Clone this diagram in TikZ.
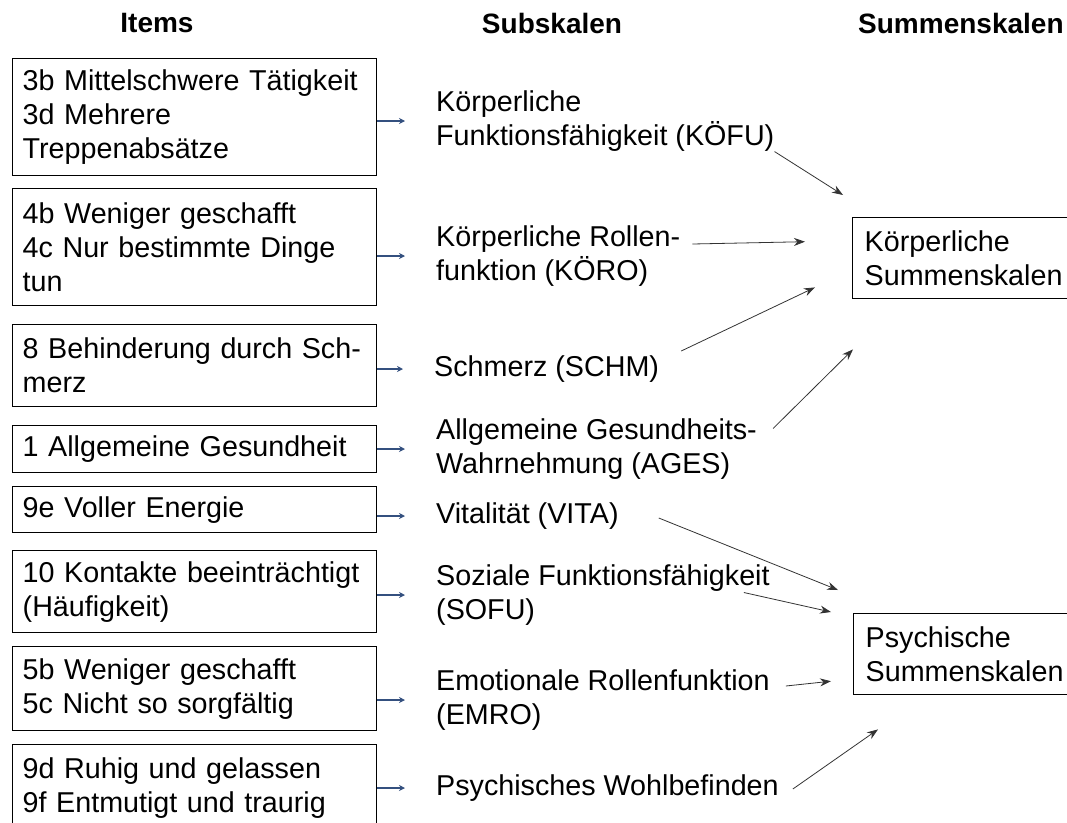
\documentclass[tikz,border=0pt]{standalone}
\usepackage{fontspec}
\setmainfont{Liberation Sans}
\usetikzlibrary{arrows.meta,calc}
\definecolor{arrblue}{HTML}{34507F}
\begin{document}
\begin{tikzpicture}[x=1pt,y=-1pt,
  every node/.style={font=\fontsize{28.7}{34}\selectfont},
  item/.style={draw, line width=1.4pt, anchor=north west, minimum width=364pt, text width=344pt, inner xsep=10pt, inner ysep=0pt, align=left},
  sub/.style={anchor=west, inner sep=0pt, align=left},
  sumbox/.style={draw, line width=1.4pt, anchor=north west, text width=228pt, inner xsep=12pt, inner ysep=0pt, minimum height=81pt, align=left},
  head/.style={font=\fontsize{28}{34}\selectfont\bfseries, inner sep=0pt},
  itemarrow/.style={arrblue, line width=2pt, -{Stealth[length=6pt,width=6pt]}, shorten >=31pt},
  sumarrow/.style={black!80, line width=0.8pt, -{Stealth[length=11pt,width=8pt]}}]
\clip (0,0) rectangle (1067,822);
% headers
\node[head] (h1) at (157,23) {Items};
\node[head] (h2) at (552,23) {Subskalen};
\node[head, anchor=west] (h3) at (858,23) {Summenskalen};
% items
\node[item, minimum height=117pt] (i1) at (12,58) {3b Mittelschwere Tätigkeit\\3d Mehrere\\Treppenabsätze};
\node[item, minimum height=117pt] (i2) at (12,188) {4b Weniger geschafft\\4c Nur bestimmte Dinge\\tun};
\node[item, minimum height=82pt] (i3) at (12,324) {8 Behinderung durch Sch-\\merz};
\node[item, minimum height=47pt] (i4) at (12,425) {1 Allgemeine Gesundheit};
\node[item, minimum height=46pt] (i5) at (12,486) {9e Voller Energie};
\node[item, minimum height=82pt] (i6) at (12,550) {10 Kontakte beeinträchtigt\\(Häufigkeit)};
\node[item, minimum height=84pt] (i7) at (12,646) {5b Weniger geschafft\\5c Nicht so sorgfältig};
\node[item, minimum height=87pt] (i8) at (12,744) {9d Ruhig und gelassen\\9f Entmutigt und traurig};
% subscales
\node[sub] (s1) at (436,121) {Körperliche\\Funktionsfähigkeit (KÖFU)};
\node[sub] (s2) at (436,256) {Körperliche Rollen-\\funktion (KÖRO)};
\node[sub] (s3) at (434,369) {Schmerz (SCHM)};
\node[sub] (s4) at (436,449) {Allgemeine Gesundheits-\\Wahrnehmung (AGES)};
\node[sub] (s5) at (436,516) {Vitalität (VITA)};
\node[sub] (s6) at (436,595) {Soziale Funktionsfähigkeit\\(SOFU)};
\node[sub] (s7) at (436,700) {Emotionale Rollenfunktion\\(EMRO)};
\node[sub] (s8) at (436,788) {Psychisches Wohlbefinden};
% sum scales
\node[sumbox] (k) at (852,217) {Körperliche\\Summenskalen};
\node[sumbox] (p) at (853,613) {Psychische\\Summenskalen};
% item arrows
\foreach \n in {1,...,8} {
  \draw[itemarrow] (i\n.east |- s\n.west) -- (s\n.west);
}
% sum arrows
\draw[sumarrow] (s1.south east) -- ($(k.north west)+(-9,-22)$);
\draw[sumarrow] ($(s2.east)+(12,-12)$) -- ($(k.west)+(-47,-16.5)$);
\draw[sumarrow] ($(s3.east)+(22,-18)$) -- ($(k.south west)+(-37,-12)$);
\draw[sumarrow] ($(s4.east)+(16,-20.5)$) -- ($(k.south west)+(1,50)$);
\draw[sumarrow] ($(s5.east)+(40,2)$) -- ($(p.north west)+(-15,-23)$);
\draw[sumarrow] ($(s6.east)+(-26,-2.5)$) -- ($(p.north west)+(-22,-1)$);
\draw[sumarrow] ($(s7.east)+(16,-14)$) -- ($(p.west)+(-22,27)$);
\draw[sumarrow] ($(s8.east)+(14,1)$) -- ($(p.south west)+(25,34)$);
\end{tikzpicture}
\end{document}
